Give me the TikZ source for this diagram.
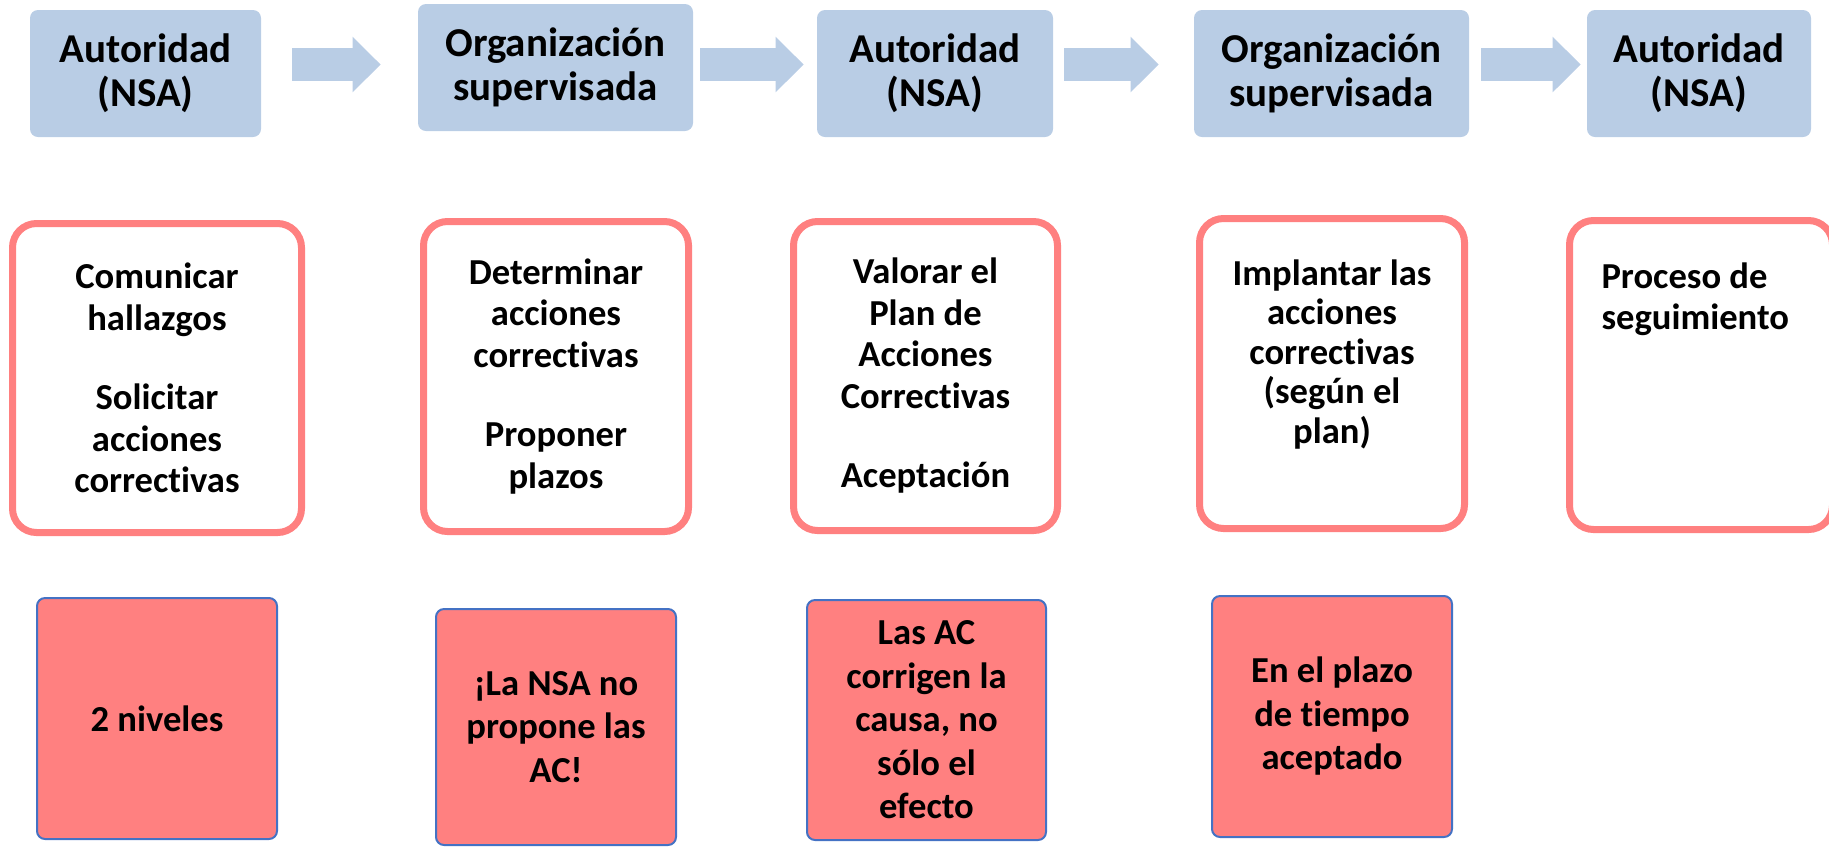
\documentclass[tikz,border=0pt]{standalone}
\usepackage{fontspec}
\setmainfont{Carlito}[Ligatures=NoCommon]
\usepackage{tikz}
\usetikzlibrary{positioning, arrows.meta}

\definecolor{headblue}{HTML}{B9CDE5}
\definecolor{salmon}{HTML}{FF8080}
\definecolor{edgeblue}{HTML}{4472C4}

\tikzset{
  actor/.style={fill=headblue, rounded corners=4pt, inner sep=0pt, minimum height=63.5pt,
    align=center, font=\fontsize{20.5}{22}\selectfont\bfseries},
  task/.style={draw=salmon, fill=white, line width=3.5pt, rounded corners=12pt, inner sep=0pt,
    align=center, font=\fontsize{18.3}{20.75}\selectfont\bfseries},
  note/.style={draw=edgeblue, fill=salmon, line width=1pt, rounded corners=4pt, inner sep=0pt,
    align=center, font=\fontsize{18.3}{21.75}\selectfont\bfseries},
  flow/.style={headblue, line width=16.5pt, -{Triangle[width=27pt,length=14pt]}}
}

\begin{document}
\begin{tikzpicture}[x=0.5pt, y=-0.5pt]
\useasboundingbox (0,0) rectangle (1829,848);
% Who acts
\node[actor, minimum width=115.5pt] (t1) at (145.5,73.5) {Autoridad\\(NSA)};
\node[actor, minimum width=137.5pt] (t2) at (555.5,67.5) {Organización\\supervisada};
\node[actor, minimum width=118pt] (t3) at (935,73.5) {Autoridad\\(NSA)};
\node[actor, minimum width=137.5pt] (t4) at (1331.5,73.5) {Organización\\supervisada};
\node[actor, minimum width=112pt] (t5) at (1699,73.5) {Autoridad\\(NSA)};
% Sequence
\draw[flow] ([xshift=15.5pt, yshift=4.5pt]t1.east) -- ([xshift=-18.5pt, yshift=1.5pt]t2.west);
\draw[flow] ([xshift=3.5pt, yshift=1.5pt]t2.east) -- ([xshift=-6.5pt, yshift=4.5pt]t3.west);
\draw[flow] ([xshift=5.5pt, yshift=4.5pt]t3.east) -- ([xshift=-17.5pt, yshift=4.5pt]t4.west);
\draw[flow] ([xshift=6pt, yshift=4.5pt]t4.east) -- ([xshift=-3pt, yshift=4.5pt]t5.west);
% What is done
\node[task, minimum width=144.5pt, minimum height=154.5pt] (m1) at (157,378)
  {Comunicar\\hallazgos\\[19pt]Solicitar\\acciones\\correctivas};
\node[task, minimum width=132.5pt, minimum height=155pt] (m2) at (556,376.5)
  {Determinar\\acciones\\correctivas\\[19pt]Proponer\\plazos};
\node[task, minimum width=132pt, minimum height=154.5pt] (m3) at (925.5,376)
  {Valorar el\\Plan de\\Acciones\\Correctivas\\[19pt]Aceptación};
\node[task, minimum width=132.5pt, minimum height=155pt] (m4) at (1332,373.5) {};
\node[task, minimum width=131.5pt, minimum height=154.5pt] (m5) at (1701,375) {};
\node[task, draw=none, fill=none, anchor=north, font=\fontsize{18.3}{19.8}\selectfont\bfseries]
  (m4text) at (1332,256) {Implantar las\\acciones\\correctivas\\(según el\\plan)};
\node[task, draw=none, fill=none, anchor=north west, align=left] (m5text) at (1598,259)
  {Proceso de\\seguimiento};
% Remarks
\node[note, minimum width=120pt, minimum height=120.5pt] (b1) at (157,718.5) {2 niveles};
\node[note, minimum width=120pt, minimum height=118pt] (b2) at (556,727)
  {¡La NSA no\\propone las\\AC!};
\node[note, minimum width=119.5pt, minimum height=120pt] (b3) at (926.5,720)
  {Las AC\\corrigen la\\causa, no\\sólo el\\efecto};
\node[note, minimum width=120pt, minimum height=120.5pt] (b4) at (1332,716.5)
  {En el plazo\\de tiempo\\aceptado};
\end{tikzpicture}
\end{document}
